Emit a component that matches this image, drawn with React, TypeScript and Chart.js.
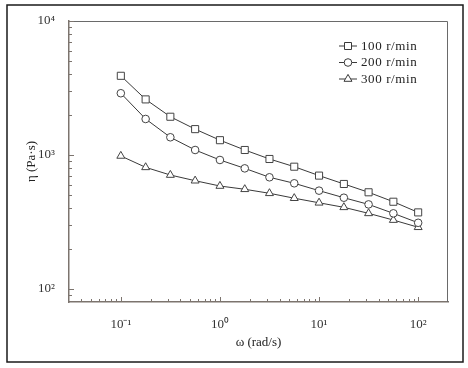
import React, { useEffect, useRef } from 'react';
import { Chart, registerables } from 'chart.js';

Chart.register(...registerables);

// angular frequency ω (rad/s)
const omega = [0.1, 0.178, 0.316, 0.562, 1, 1.78, 3.16, 5.62, 10, 17.8, 31.6, 56.2, 100];
// viscosity η (Pa·s)
const eta100 = [3900, 2600, 1930, 1560, 1290, 1090, 934, 818, 702, 608, 527, 448, 373];
const eta200 = [2890, 1857, 1356, 1090, 918, 795, 682, 615, 542, 480, 428, 367, 312];
const eta300 = [984, 809, 709, 643, 587, 555, 518, 476, 440, 407, 367, 327, 289];
const seriesLabels = ['100 r/min', '200 r/min', '300 r/min'];
const seriesStyles = ['rect', 'circle', 'triangle'];
const xRange = [0.03, 200];
const yRange = [80, 10000];
const xTitle = 'ω (rad/s)';
const yTitle = 'η (Pa·s)';

const SUP: Record<string, string> = {
  '-': '\u207B', '0': '\u2070', '1': '\u00B9', '2': '\u00B2', '3': '\u00B3',
  '4': '\u2074', '5': '\u2075', '6': '\u2076', '7': '\u2077', '8': '\u2078', '9': '\u2079',
};

const isMajor = (v: number) => Math.abs(Math.log10(v) - Math.round(Math.log10(v))) < 1e-9;
const powLabel = (v: number) => {
  const e = String(Math.round(Math.log10(v)));
  return '10' + e.split('').map((c) => SUP[c] || c).join('');
};
const logTicks = (min: number, max: number) => {
  const out: { value: number; major: boolean }[] = [];
  for (let d = Math.floor(Math.log10(min)); d <= Math.ceil(Math.log10(max)); d++) {
    for (let m = 1; m <= 9; m++) {
      const v = m * Math.pow(10, d);
      if (v >= min * 0.9999 && v <= max * 1.0001) out.push({ value: v, major: m === 1 });
    }
  }
  return out;
};

const FONT = "'Liberation Serif', 'Times New Roman', serif";
const AXIS_COLOR = '#7c746e';
const LINE_COLOR = '#3a3a3a';

const framePlugin = {
  id: 'frame',
  beforeDraw(chart: any) {
    const ctx = chart.ctx;
    ctx.save();
    ctx.fillStyle = '#ffffff';
    ctx.fillRect(0, 0, chart.width, chart.height);
    ctx.strokeStyle = '#1a1a1a';
    ctx.lineWidth = 1.5;
    ctx.strokeRect(7, 5, chart.width - 12, chart.height - 11);
    ctx.restore();
  },
  afterDraw(chart: any) {
    const ctx = chart.ctx;
    const a = chart.chartArea;
    ctx.save();
    // top and right frame
    ctx.strokeStyle = '#6a6a6a';
    ctx.lineWidth = 1;
    ctx.beginPath();
    ctx.moveTo(a.left, a.top + 0.5);
    ctx.lineTo(a.right - 0.5, a.top + 0.5);
    ctx.lineTo(a.right - 0.5, a.bottom);
    ctx.stroke();
    // inward tick marks
    ctx.strokeStyle = AXIS_COLOR;
    ctx.lineWidth = 1;
    const xs = chart.scales.x;
    const ys = chart.scales.y;
    xs.ticks.forEach((t: any) => {
      const px = Math.round(xs.getPixelForValue(t.value)) + 0.5;
      if (px < a.left + 1 || px > a.right - 1) return;
      const len = isMajor(t.value) ? 5 : 3;
      ctx.beginPath();
      ctx.moveTo(px, a.bottom);
      ctx.lineTo(px, a.bottom - len);
      ctx.stroke();
    });
    ys.ticks.forEach((t: any) => {
      const py = Math.round(ys.getPixelForValue(t.value)) + 0.5;
      if (py < a.top - 1 || py > a.bottom - 1) return;
      const len = isMajor(t.value) ? 5 : 3;
      ctx.beginPath();
      ctx.moveTo(a.left, py);
      ctx.lineTo(a.left + len, py);
      ctx.stroke();
    });
    ctx.restore();
  },
};

const drawMarker = (ctx: any, style: string, x: number, y: number) => {
  ctx.beginPath();
  if (style === 'rect') {
    ctx.rect(x - 3.5, y - 3.5, 7, 7);
  } else if (style === 'circle') {
    ctx.arc(x, y, 3.8, 0, Math.PI * 2);
  } else {
    const r = 4.6;
    ctx.moveTo(x, y - r);
    ctx.lineTo(x + r * Math.sin(Math.PI / 3), y + r * 0.5);
    ctx.lineTo(x - r * Math.sin(Math.PI / 3), y + r * 0.5);
    ctx.closePath();
  }
  ctx.fill();
  ctx.stroke();
};

const legendPlugin = {
  id: 'insideLegend',
  afterDraw(chart: any) {
    const ctx = chart.ctx;
    const a = chart.chartArea;
    const x0 = a.right - 109;
    const y0 = a.top + 25;
    ctx.save();
    chart.data.datasets.forEach((ds: any, i: number) => {
      const y = y0 + i * 16.5;
      ctx.strokeStyle = LINE_COLOR;
      ctx.lineWidth = 1;
      ctx.beginPath();
      ctx.moveTo(x0, y);
      ctx.lineTo(x0 + 18, y);
      ctx.stroke();
      ctx.fillStyle = '#ffffff';
      drawMarker(ctx, ds.pointStyle, x0 + 9, y);
      ctx.fillStyle = '#222222';
      ctx.font = `13px ${FONT}`;
      ctx.textBaseline = 'middle';
      ctx.textAlign = 'left';
      try { (ctx as any).letterSpacing = '0.6px'; } catch (e) {}
      ctx.fillText(ds.label, x0 + 22, y + 0.5);
    });
    ctx.restore();
  },
};

export default function App() {
  const ref = useRef<HTMLCanvasElement>(null);
  useEffect(() => {
    const canvas = ref.current;
    if (!canvas) return;
    const seriesValues = [eta100, eta200, eta300];
    const radii = [5, 3.8, 4.6];
    const chart = new Chart(canvas, {
      type: 'line',
      data: {
        datasets: seriesValues.map((vals, i) => ({
          label: seriesLabels[i],
          data: omega.map((w, k) => ({ x: w, y: vals[k] })),
          borderColor: LINE_COLOR,
          borderWidth: 1,
          backgroundColor: '#ffffff',
          pointStyle: seriesStyles[i] as any,
          pointRadius: radii[i],
          pointBorderColor: '#444444',
          pointBackgroundColor: '#ffffff',
          pointBorderWidth: 1,
          fill: false,
          tension: 0,
        })),
      },
      options: {
        responsive: false,
        animation: false,
        devicePixelRatio: 1,
        layout: { padding: { left: 22, right: 20, top: 21, bottom: 16 } },
        plugins: { legend: { display: false }, tooltip: { enabled: false } },
        scales: {
          x: {
            type: 'logarithmic',
            min: xRange[0],
            max: xRange[1],
            afterBuildTicks: (s: any) => { s.ticks = logTicks(xRange[0], xRange[1]); },
            afterFit: (s: any) => { s.height = 50; },
            grid: { display: false },
            border: { display: true, color: AXIS_COLOR, width: 1.5 },
            ticks: {
              autoSkip: false,
              maxRotation: 0,
              padding: 7,
              color: '#333333',
              font: { family: FONT, size: 13 },
              callback: (v: any) => (isMajor(Number(v)) ? powLabel(Number(v)) : ''),
            },
            title: {
              display: true,
              text: xTitle,
              color: '#222222',
              font: { family: FONT, size: 13 },
              padding: { top: 4, bottom: 2 },
            },
          },
          y: {
            type: 'logarithmic',
            min: yRange[0],
            max: yRange[1],
            afterBuildTicks: (s: any) => { s.ticks = logTicks(yRange[0], yRange[1]); },
            afterFit: (s: any) => { s.width = 47; },
            grid: { display: false },
            border: { display: true, color: AXIS_COLOR, width: 1.5 },
            ticks: {
              autoSkip: false,
              padding: 6,
              color: '#333333',
              font: { family: FONT, size: 13 },
              callback: (v: any) => (isMajor(Number(v)) ? powLabel(Number(v)) : ''),
            },
            title: {
              display: true,
              text: yTitle,
              color: '#222222',
              font: { family: FONT, size: 13 },
              padding: { top: 2, bottom: 4 },
            },
          },
        },
      },
      plugins: [framePlugin, legendPlugin],
    });
    return () => chart.destroy();
  }, []);
  return (
    <div style={{ position: 'absolute', left: 0, top: 0, width: 468, height: 368, background: '#ffffff' }}>
      <canvas ref={ref} width={468} height={368} style={{ display: 'block', width: 468, height: 368 }} />
    </div>
  );
}
